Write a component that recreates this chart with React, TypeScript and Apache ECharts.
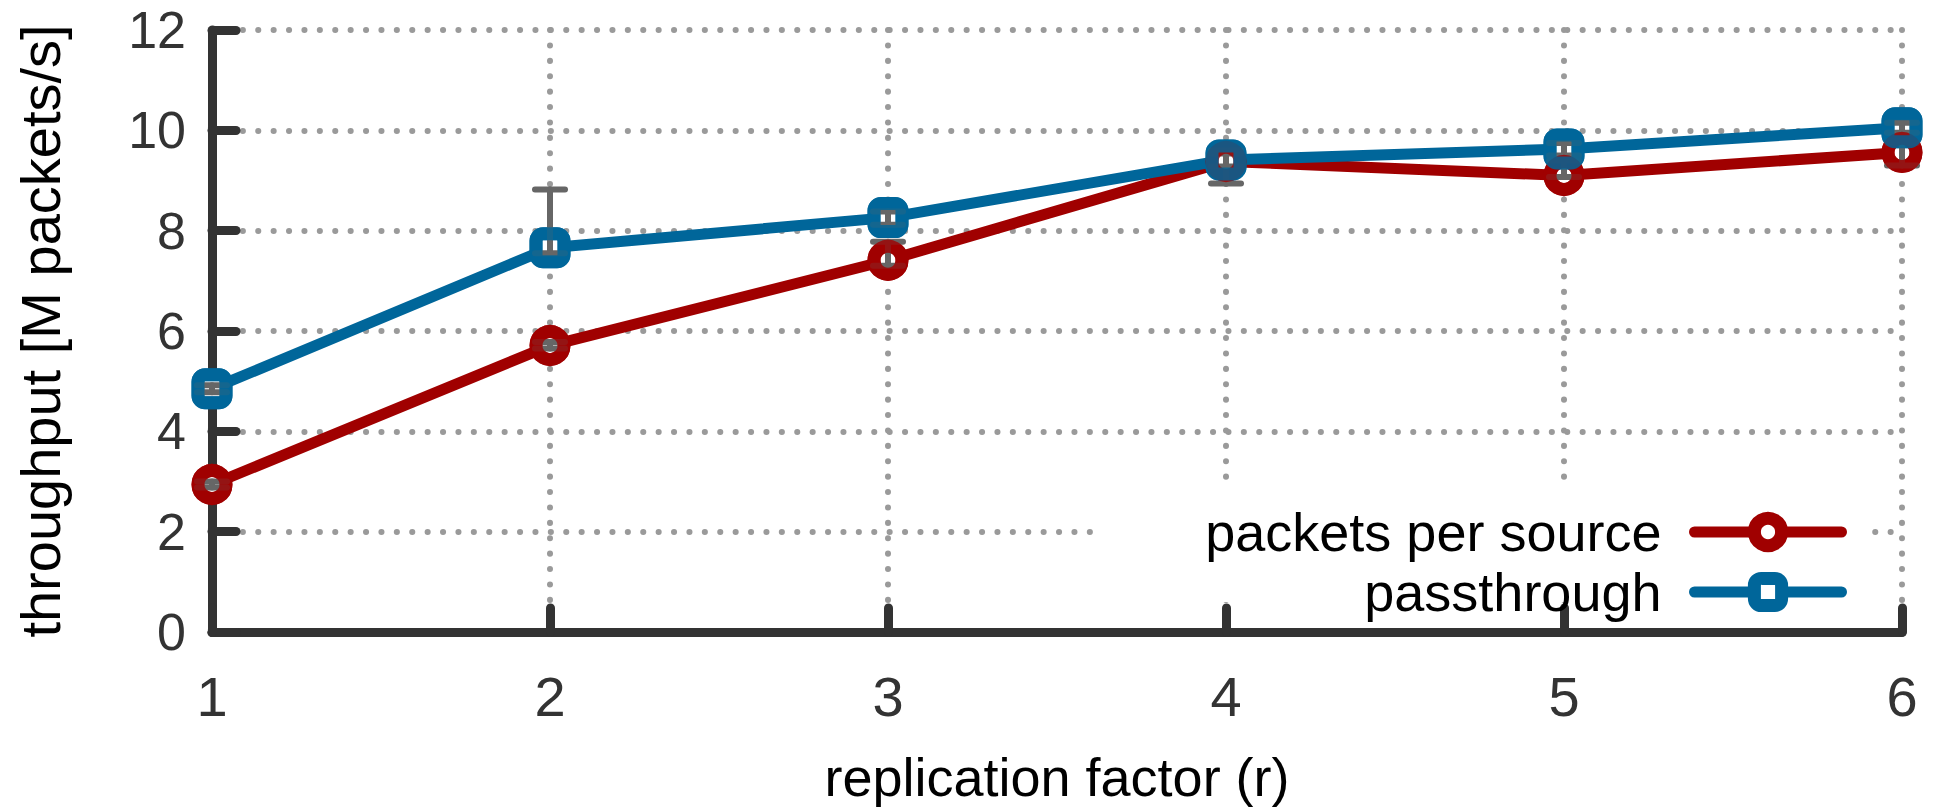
import React, { useEffect, useRef } from "react";
import * as echarts from "echarts";

const xValues = [1, 2, 3, 4, 5, 6];
const packetsPerSource = [2.94, 5.71, 7.41, 9.38, 9.1, 9.56];
const passthrough = [4.85, 7.66, 8.26, 9.41, 9.63, 10.05];
const packetsErrLow = [2.88, 5.65, 7.3, 8.94, 9.07, 9.3];
const packetsErrHigh = [3.0, 5.78, 7.78, 9.6, 9.4, 9.75];
const passErrLow = [4.78, 7.55, 8.12, 9.28, 9.5, 9.95];
const passErrHigh = [4.92, 8.82, 8.38, 9.54, 9.75, 10.15];
const seriesNames = ["packets per source", "passthrough"];

const RED = "#a00000";
const BLUE = "#00669a";
const FONT = "'Liberation Sans', Arial, Helvetica, sans-serif";
const GRID_LINE = { color: "#9a9a9a", width: 6, type: [0.1, 15.3], cap: "round" };

export default function App() {
  const ref = useRef<HTMLDivElement>(null);
  useEffect(() => {
    document.body.style.margin = "0";
    if (!ref.current) return;
    const chart = echarts.init(ref.current, null, { renderer: "svg" });
    const redPts = xValues.map((x, i) => [x, packetsPerSource[i]]);
    const bluePts = xValues.map((x, i) => [x, passthrough[i]]);
    const errData = [
      ...xValues.map((x, i) => [x, packetsErrLow[i], packetsErrHigh[i]]),
      ...xValues.map((x, i) => [x, passErrLow[i], passErrHigh[i]]),
    ];
    const option: any = {
      animation: false,
      backgroundColor: "#fff",
      textStyle: { fontFamily: FONT },
      grid: { left: 212, right: 35, top: 30, bottom: 179 },
      xAxis: {
        type: "value",
        min: 1,
        max: 6,
        interval: 1,
        name: "replication factor (r)",
        nameLocation: "middle",
        nameGap: 118,
        nameTextStyle: { fontSize: 54, color: "#000", fontFamily: FONT },
        axisLine: { lineStyle: { color: "#333", width: 9, cap: "round" } },
        axisTick: { inside: true, length: 24, lineStyle: { color: "#333", width: 9, cap: "round" } },
        axisLabel: { fontSize: 56, color: "#333", margin: 36, fontFamily: FONT },
        splitLine: { show: true, lineStyle: GRID_LINE },
      },
      yAxis: {
        type: "value",
        min: 0,
        max: 12,
        interval: 2,
        name: "throughput [M packets/s]",
        nameLocation: "middle",
        nameGap: 144,
        nameTextStyle: { fontSize: 56, color: "#000", fontFamily: FONT },
        axisLine: { show: true, lineStyle: { color: "#333", width: 9, cap: "round" } },
        axisTick: { show: true, inside: true, length: 24, lineStyle: { color: "#333", width: 9, cap: "round" } },
        axisLabel: { fontSize: 52, color: "#333", margin: 26, lineHeight: 44, fontFamily: FONT },
        splitLine: { show: true, lineStyle: GRID_LINE },
      },
      legend: {
        orient: "vertical",
        right: 85,
        top: 500,
        align: "right",
        itemWidth: 147,
        itemHeight: 34,
        itemGap: 6,
        selectedMode: false,
        textStyle: { fontSize: 54, color: "#000", fontFamily: FONT, lineHeight: 49, padding: [0, 28, 0, 0] },
        data: [
          {
            name: seriesNames[0],
            itemStyle: { color: "#fff", borderColor: RED, borderWidth: 13 },
            lineStyle: { color: RED, width: 11, cap: "round" },
          },
          {
            name: seriesNames[1],
            itemStyle: { color: "#fff", borderColor: BLUE, borderWidth: 13 },
            lineStyle: { color: BLUE, width: 11, cap: "round" },
          },
        ],
      },
      graphic: {
        elements: [
          {
            type: "rect",
            z: 1,
            silent: true,
            shape: { x: 1093, y: 488, width: 773, height: 114 },
            style: { fill: "#fff" },
          },
        ],
      },
      series: [
        {
          name: seriesNames[0],
          type: "line",
          z: 2,
          data: redPts,
          symbol: "circle",
          symbolSize: 28,
          lineStyle: { color: RED, width: 11 },
          itemStyle: { color: "#fff", borderColor: RED, borderWidth: 13 },
        },
        {
          name: seriesNames[1],
          type: "line",
          z: 2,
          data: bluePts,
          symbol: "roundRect",
          symbolSize: 28,
          lineStyle: { color: BLUE, width: 11 },
          itemStyle: { color: "#fff", borderColor: BLUE, borderWidth: 13 },
        },
        {
          type: "custom",
          z: 3,
          silent: true,
          data: errData,
          renderItem: (params: any, api: any) => {
            const x = api.value(0);
            const lo = api.coord([x, api.value(1)]);
            const hi = api.coord([x, api.value(2)]);
            const half = 15;
            const style = { stroke: "#666", lineWidth: 6, lineCap: "round" };
            return {
              type: "group",
              children: [
                { type: "line", shape: { x1: lo[0], y1: lo[1], x2: hi[0], y2: hi[1] }, style },
                { type: "line", shape: { x1: lo[0] - half, y1: lo[1], x2: lo[0] + half, y2: lo[1] }, style },
                { type: "line", shape: { x1: hi[0] - half, y1: hi[1], x2: hi[0] + half, y2: hi[1] }, style },
              ],
            };
          },
        },
        {
          type: "scatter",
          z: 4,
          silent: true,
          data: redPts,
          symbol: "circle",
          symbolSize: 28,
          itemStyle: { color: "rgba(0,0,0,0)", borderColor: RED, borderWidth: 13 },
        },
        {
          type: "scatter",
          z: 4,
          silent: true,
          data: bluePts,
          symbol: "roundRect",
          symbolSize: 28,
          itemStyle: { color: "rgba(0,0,0,0)", borderColor: BLUE, borderWidth: 13 },
        },
      ],
    };
    chart.setOption(option);
    return () => chart.dispose();
  }, []);
  return <div ref={ref} style={{ width: 1937, height: 811 }} />;
}
